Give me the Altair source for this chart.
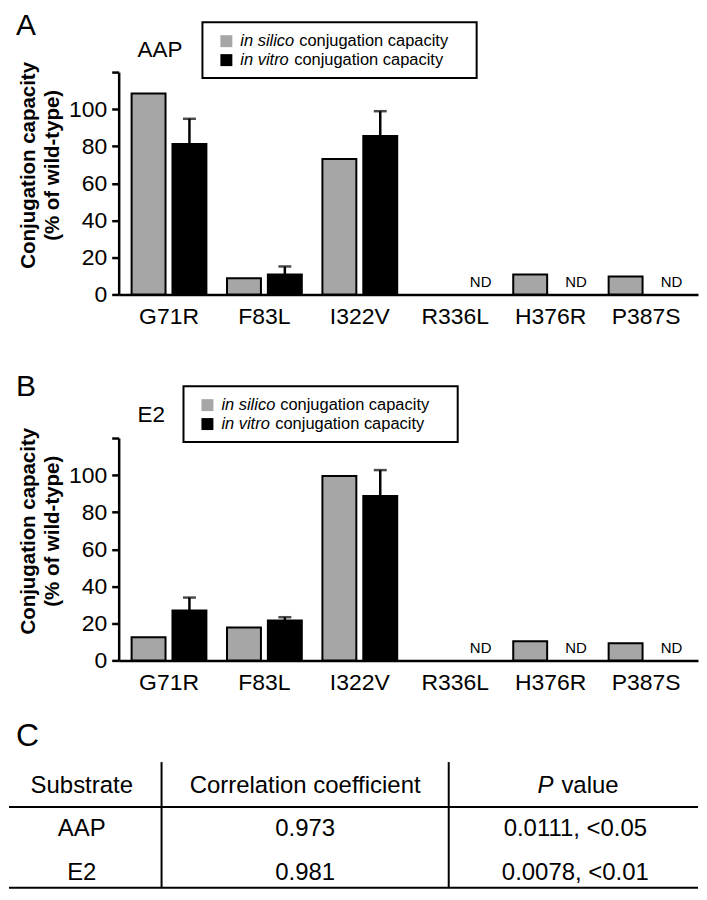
import altair as alt
import pandas as pd

FONT = "Liberation Sans"

# ---------------- data ----------------
mutations = ["G71R", "F83L", "I322V", "R336L", "H376R", "P387S"]
series = ["in silico", "in vitro"]

aap_silico = [108.5, 8.7, 73.1, None, 10.8, 9.7]
aap_vitro = [81.2, 10.8, 85.5, None, None, None]
aap_vitro_err = [13.6, 4.3, 13.4, None, None, None]

e2_silico = [12.5, 17.7, 99.5, None, 10.3, 9.2]
e2_vitro = [26.9, 21.5, 88.7, None, None, None]
e2_vitro_err = [7.0, 1.8, 14.0, None, None, None]

y_ticks = [0, 20, 40, 60, 80, 100, 120]

table_header = ["Substrate", "Correlation coefficient", "P value"]
table_substrates = ["AAP", "E2"]
table_corr = ["0.973", "0.981"]
table_p = ["0.0111, <0.05", "0.0078, <0.01"]

PLOT_W = 581
PLOT_H = 223
YLAB = 23


def panel_df(silico, vitro, err):
    rows = []
    for m, s, v, e in zip(mutations, silico, vitro, err):
        rows.append({"mutation": m, "series": series[0], "value": s, "upper": None})
        rows.append({"mutation": m, "series": series[1], "value": v,
                     "upper": (v + e) if v is not None else None})
    return pd.DataFrame(rows)


def one(txt):
    return pd.DataFrame({"t": [txt]})


def text_layer(txt, x, y, size, style="normal", weight="normal", align="left", baseline="alphabetic"):
    return alt.Chart(one(txt)).mark_text(
        align=align, baseline=baseline, fontSize=size, font=FONT,
        fontStyle=style, fontWeight=weight, color="black"
    ).encode(text="t:N", x=alt.value(x), y=alt.value(y))


fill_scale = alt.Scale(domain=series, range=["#a6a6a6", "#000000"])


def make_panel(silico, vitro, err, letter, name, letter_y, name_y, lx, ly):
    df = panel_df(silico, vitro, err)
    base = alt.Chart(df)
    x = alt.X("mutation:N", sort=mutations,
              scale=alt.Scale(domain=mutations, paddingInner=0.216, paddingOuter=0.144, align=0.47),
              axis=alt.Axis(title=None, labelAngle=0, ticks=False, labelFontSize=23,
                            labelPadding=11, domainWidth=2.5, domainColor="black",
                            labelColor="black", labelFont=FONT))
    xo = alt.XOffset("series:N", sort=series,
                     scale=alt.Scale(domain=series, paddingInner=0.17, paddingOuter=0))
    fill = alt.Fill("series:N", scale=fill_scale, legend=None)
    yaxis = alt.Axis(values=y_ticks, labelExpr="datum.value == 120 ? '' : datum.label",
                     title=["Conjugation capacity", "(% of wild-type)"],
                     titleFontWeight="bold", titleFontSize=20.5, titleLineHeight=24,
                     titleAngle=270, titleBaseline="middle", titleAlign="center",
                     titleX=-90, titleY=93, titleFont=FONT, titleColor="black",
                     tickSize=7, tickWidth=2.5, tickColor="black",
                     domainWidth=2.5, domainColor="black",
                     labelFontSize=YLAB, labelPadding=5, labelFont=FONT, labelColor="black",
                     grid=False)
    yscale = alt.Scale(domain=[0, 120], nice=False)

    err_line = base.transform_filter("isValid(datum.upper)").mark_rule(
        color="black", strokeWidth=2.5
    ).encode(x=x, xOffset=xo, y=alt.Y("value:Q", scale=yscale, axis=yaxis), y2="upper:Q")

    bars = base.transform_filter("isValid(datum.value)").mark_bar(
        stroke="black", strokeWidth=2
    ).encode(x=x, xOffset=xo, y=alt.Y("value:Q", scale=yscale, axis=yaxis), fill=fill)

    caps = base.transform_filter("isValid(datum.upper)").mark_tick(
        color="black", thickness=2.5, size=13
    ).encode(x=x, xOffset=xo, y=alt.Y("upper:Q", scale=yscale, axis=yaxis))

    nd = base.transform_filter(
        "datum.series == 'in vitro' && !isValid(datum.value)"
    ).transform_calculate(zero="0").mark_text(
        text="ND", fontSize=15, font=FONT, baseline="alphabetic", dx=5, dy=-7, color="black"
    ).encode(x=x, xOffset=xo, y=alt.Y("zero:Q", scale=yscale, axis=yaxis))

    box = alt.Chart(one("box")).mark_rect(
        fill="white", stroke="black", strokeWidth=2
    ).encode(x=alt.value(lx), x2=alt.value(lx + 275), y=alt.value(ly), y2=alt.value(ly + 56))

    sq1 = alt.Chart(pd.DataFrame({"series": [series[0]]})).mark_rect().encode(
        fill=fill, x=alt.value(lx + 18), x2=alt.value(lx + 30),
        y=alt.value(ly + 13), y2=alt.value(ly + 25))
    sq2 = alt.Chart(pd.DataFrame({"series": [series[1]]})).mark_rect().encode(
        fill=fill, x=alt.value(lx + 18), x2=alt.value(lx + 30),
        y=alt.value(ly + 32), y2=alt.value(ly + 44))

    t1a = text_layer("in silico", lx + 38, ly + 24, 16.5, style="italic")
    t1b = text_layer("conjugation capacity", lx + 97, ly + 24, 16.5)
    t2a = text_layer("in vitro", lx + 38, ly + 43, 16.5, style="italic")
    t2b = text_layer("conjugation capacity", lx + 92, ly + 43, 16.5)

    lab = text_layer(letter, -103, letter_y, 30)
    ttl = text_layer(name, 19, name_y, 22.5)

    return alt.layer(err_line, bars, caps, nd, box, sq1, sq2, t1a, t1b, t2a, t2b, lab, ttl).properties(
        width=PLOT_W, height=PLOT_H)


panelA = make_panel(aap_silico, aap_vitro, aap_vitro_err, "A", "AAP", -37, -15, 84, -50)
panelB = make_panel(e2_silico, e2_vitro, e2_vitro_err, "B", "E2", -42, -16, 65, -52)

# ---------------- table ----------------
rows_order = ["header"] + table_substrates
yrow = alt.Y("row:N", sort=rows_order,
             scale=alt.Scale(domain=rows_order, range=[-18, 69], padding=0), axis=None)


def col_layer(texts, x, rows, align="center", style="normal"):
    d = pd.DataFrame({"row": rows, "text": texts})
    return alt.Chart(d).mark_text(
        align=align, baseline="middle", fontSize=24, font=FONT, fontStyle=style, color="black"
    ).encode(text="text:N", x=alt.value(x), y=yrow)


c1 = col_layer([table_header[0]] + table_substrates, -37, rows_order)
c2 = col_layer([table_header[1]] + table_corr, 187, rows_order)
c3 = col_layer(table_p, 458, table_substrates)
p_head = table_header[2].split(" ")
h3a = col_layer([p_head[0]], 436, ["header"], align="right", style="italic")
h3b = col_layer([p_head[1]], 444, ["header"], align="left")


def rule(x, x2, y, y2):
    return alt.Chart(one("r")).mark_rule(color="black", strokeWidth=2).encode(
        x=alt.value(x), x2=alt.value(x2), y=alt.value(y), y2=alt.value(y2))


hl1 = rule(-110, PLOT_W, 3, 3)
hl2 = rule(-110, PLOT_W, 84, 84)
vl1 = rule(43, 43, -42, 84)
vl2 = rule(331, 331, -42, 84)
labC = text_layer("C", -103, -58, 32)

table = alt.layer(hl1, hl2, vl1, vl2, c1, c2, c3, h3a, h3b, labC).properties(width=PLOT_W, height=84)

chart = alt.vconcat(panelA, panelB, table, spacing=144, bounds="flush").properties(
    padding={"left": 0, "top": 2, "right": 0, "bottom": 0}
).configure(font=FONT).configure_view(stroke=None).configure_axisY(
    labelFontSize=YLAB, titleFontSize=20.5
).configure_axisX(labelFontSize=23)

chart.save("out.html", embed_options={"renderer": "svg", "actions": False})
